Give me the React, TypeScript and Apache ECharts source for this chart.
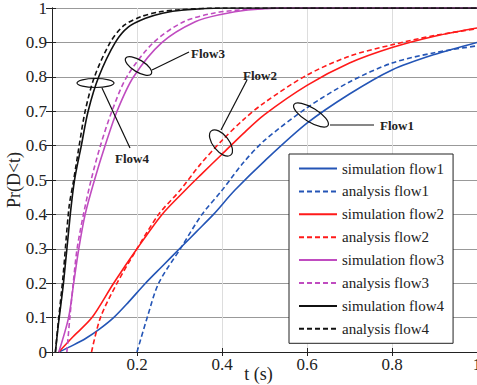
import React, { useEffect, useRef } from "react";
import * as echarts from "echarts";

const seriesNames = [
  "simulation flow1",
  "analysis flow1",
  "simulation flow2",
  "analysis flow2",
  "simulation flow3",
  "analysis flow3",
  "simulation flow4",
  "analysis flow4",
];

const tSim1 = [0.016, 0.05, 0.08, 0.11, 0.145, 0.18, 0.22, 0.26, 0.3, 0.34, 0.38, 0.43, 0.5, 0.6, 0.7, 0.8, 0.9, 1.0];
const pSim1 = [0, 0.02, 0.04, 0.065, 0.1, 0.145, 0.2, 0.25, 0.3, 0.35, 0.4, 0.47, 0.555, 0.665, 0.75, 0.82, 0.865, 0.9];

const tAna1 = [0.2, 0.224, 0.251, 0.302, 0.353, 0.4, 0.45, 0.5, 0.6, 0.7, 0.8, 0.9, 1.0];
const pAna1 = [0, 0.1, 0.2, 0.3, 0.4, 0.47, 0.55, 0.615, 0.71, 0.785, 0.84, 0.87, 0.89];

const tSim2 = [0.016, 0.05, 0.094, 0.145, 0.2, 0.259, 0.314, 0.35, 0.4, 0.45, 0.5, 0.6, 0.7, 0.8, 0.9, 1.0];
const pSim2 = [0, 0.045, 0.1, 0.2, 0.3, 0.4, 0.471, 0.515, 0.575, 0.635, 0.69, 0.775, 0.84, 0.885, 0.918, 0.942];

const tAna2 = [0.093, 0.114, 0.153, 0.2, 0.251, 0.302, 0.348, 0.4, 0.45, 0.5, 0.6, 0.7, 0.8, 0.9, 1.0];
const pAna2 = [0, 0.1, 0.2, 0.3, 0.4, 0.471, 0.544, 0.615, 0.675, 0.725, 0.805, 0.86, 0.893, 0.92, 0.94];

const tSim3 = [0.016, 0.039, 0.051, 0.063, 0.078, 0.1, 0.125, 0.153, 0.192, 0.259, 0.337, 0.4, 0.46, 0.55, 1.0];
const pSim3 = [0, 0.1, 0.2, 0.3, 0.4, 0.5, 0.6, 0.7, 0.8, 0.9, 0.96, 0.982, 0.994, 1, 1];

const tAna3 = [0.035, 0.042, 0.05, 0.059, 0.074, 0.092, 0.114, 0.141, 0.176, 0.239, 0.31, 0.38, 0.45, 0.55, 1.0];
const pAna3 = [0, 0.1, 0.2, 0.3, 0.4, 0.5, 0.6, 0.7, 0.8, 0.9, 0.96, 0.985, 0.995, 1, 1];

const tSim4 = [0.008, 0.015, 0.027, 0.043, 0.053, 0.069, 0.085, 0.11, 0.149, 0.18, 0.22, 0.26, 0.31, 0.4, 1.0];
const pSim4 = [0, 0.08, 0.2, 0.4, 0.5, 0.6, 0.7, 0.8, 0.9, 0.945, 0.97, 0.985, 0.994, 1, 1];

const tAna4 = [0.008, 0.015, 0.026, 0.04, 0.051, 0.064, 0.078, 0.1, 0.137, 0.17, 0.21, 0.25, 0.3, 0.4, 1.0];
const pAna4 = [0, 0.09, 0.22, 0.42, 0.5, 0.6, 0.7, 0.8, 0.9, 0.95, 0.975, 0.988, 0.995, 1, 1];

const xTicks = [0, 0.2, 0.4, 0.6, 0.8, 1];
const flowLabels = ["Flow1", "Flow2", "Flow3", "Flow4"];

const zip = (t: number[], p: number[]) => t.map((v, i) => [v, p[i]]);

const BLUE = "#2455b6";
const RED = "#ff1a1a";
const MAGENTA = "#c04cc0";
const BLACK = "#111111";
const FONT = "'Liberation Serif', 'Times New Roman', serif";

export default function App() {
  const ref = useRef<HTMLDivElement>(null);
  useEffect(() => {
    if (!ref.current) return;
    const chart = echarts.init(ref.current, undefined, { renderer: "svg" });
    const dataSets = [
      zip(tSim1, pSim1),
      zip(tAna1, pAna1),
      zip(tSim2, pSim2),
      zip(tAna2, pAna2),
      zip(tSim3, pSim3),
      zip(tAna3, pAna3),
      zip(tSim4, pSim4),
      zip(tAna4, pAna4),
    ];
    const colors = [BLUE, BLUE, RED, RED, MAGENTA, MAGENTA, BLACK, BLACK];
    const series = dataSets.map((d, i) => ({
      name: seriesNames[i],
      type: "line",
      data: d,
      symbol: "none",
      smooth: 0.3,
      color: colors[i],
      lineStyle: {
        color: colors[i],
        width: 1.6,
        type: i % 2 === 1 ? [5, 3] : "solid",
      },
      z: 2,
    }));

    const labelStyle = { fontFamily: FONT, fontSize: 13, fontWeight: "bold", fill: "#222" };
    const ellipseStyle = { fill: "none", stroke: "#111", lineWidth: 1.2 };
    const lineStyle = { stroke: "#111", lineWidth: 1.2 };

    chart.setOption({
      animation: false,
      textStyle: { fontFamily: FONT },
      grid: { left: 52, right: 0, top: 8, bottom: 33, containLabel: false, outerBoundsMode: "none" },
      legend: {
        orient: "vertical",
        left: 289,
        top: 154,
        padding: [7, 9, 7, 9],
        itemWidth: 38,
        itemHeight: 14,
        itemGap: 7.9,
        backgroundColor: "#fff",
        borderColor: "#222",
        borderWidth: 1,
        borderRadius: 0,
        itemStyle: { color: "transparent", borderWidth: 0, opacity: 0 },
        textStyle: { fontFamily: FONT, fontSize: 15, color: "#222" },
        data: seriesNames,
      },
      xAxis: [
        {
          type: "value",
          min: 0,
          max: 1,
          interval: 0.2,
          name: "t (s)",
          nameLocation: "middle",
          nameGap: 13,
          nameMoveOverlap: false,
          nameTextStyle: { fontFamily: FONT, fontSize: 18, color: "#222", padding: [0, 12, 0, 0] },
          axisLine: { lineStyle: { color: "#222", width: 1 } },
          axisTick: { inside: true, length: 4, lineStyle: { color: "#222" } },
          axisLabel: {
            fontFamily: FONT,
            fontSize: 17,
            color: "#222",
            margin: 4,
            formatter: (v: number) => (v === xTicks[0] ? "" : String(+v.toFixed(1))),
          },
          splitLine: { show: true, lineStyle: { color: "#dddddd", width: 1 } },
        },
        {
          type: "value",
          position: "top",
          min: 0,
          max: 1,
          interval: 0.2,
          axisLine: { show: true, lineStyle: { color: "#222", width: 1 } },
          axisTick: { inside: true, length: 4, lineStyle: { color: "#222" } },
          axisLabel: { show: false },
          splitLine: { show: false },
        },
      ],
      yAxis: [
        {
          type: "value",
          min: 0,
          max: 1,
          interval: 0.1,
          name: "Pr(D<t)",
          nameLocation: "middle",
          nameGap: 29,
          nameMoveOverlap: false,
          nameTextStyle: { fontFamily: FONT, fontSize: 18, color: "#222" },
          axisLine: { show: true, lineStyle: { color: "#222", width: 1 } },
          axisTick: { inside: true, length: 4, lineStyle: { color: "#222" } },
          axisLabel: {
            fontFamily: FONT,
            fontSize: 17,
            color: "#222",
            margin: 5,
            formatter: (v: number) => String(+v.toFixed(1)),
          },
          splitLine: { show: true, lineStyle: { color: "#999999", width: 1 } },
        },
        {
          type: "value",
          position: "right",
          min: 0,
          max: 1,
          interval: 0.1,
          axisLine: { show: true, lineStyle: { color: "#222", width: 1 } },
          axisTick: { inside: true, length: 6, lineStyle: { color: "#222" } },
          axisLabel: { show: false },
          splitLine: { show: false },
        },
      ],
      series,
      graphic: [
        // Flow3
        { type: "ellipse", x: 138.5, y: 66, rotation: -0.55, shape: { cx: 0, cy: 0, rx: 15, ry: 6 }, style: ellipseStyle, z: 10 },
        { type: "line", shape: { x1: 152, y1: 70, x2: 189, y2: 52 }, style: lineStyle, z: 10 },
        { type: "text", x: 191, y: 53, style: { ...labelStyle, text: flowLabels[2], verticalAlign: "middle" }, z: 10 },
        // Flow4
        { type: "ellipse", x: 95.5, y: 83, rotation: 0, shape: { cx: 0, cy: 0, rx: 18.5, ry: 4.5 }, style: ellipseStyle, z: 10 },
        { type: "line", shape: { x1: 102, y1: 88, x2: 130, y2: 148 }, style: lineStyle, z: 10 },
        { type: "text", x: 115, y: 158, style: { ...labelStyle, text: flowLabels[3], verticalAlign: "middle" }, z: 10 },
        // Flow2
        { type: "ellipse", x: 221, y: 143, rotation: -0.9, shape: { cx: 0, cy: 0, rx: 15.5, ry: 8 }, style: ellipseStyle, z: 10 },
        { type: "line", shape: { x1: 221, y1: 130, x2: 247, y2: 80 }, style: lineStyle, z: 10 },
        { type: "text", x: 243, y: 75, style: { ...labelStyle, text: flowLabels[1], verticalAlign: "middle" }, z: 10 },
        // Flow1
        { type: "ellipse", x: 311, y: 115, rotation: -0.55, shape: { cx: 0, cy: 0, rx: 20, ry: 7 }, style: ellipseStyle, z: 10 },
        { type: "line", shape: { x1: 330, y1: 125, x2: 374, y2: 125 }, style: lineStyle, z: 10 },
        { type: "text", x: 380, y: 125, style: { ...labelStyle, text: flowLabels[0], verticalAlign: "middle" }, z: 10 },
      ],
    });
    return () => chart.dispose();
  }, []);
  return (
    <div
      ref={ref}
      style={{ position: "fixed", left: 0, top: 0, width: 477, height: 385, background: "#fff" }}
    />
  );
}
